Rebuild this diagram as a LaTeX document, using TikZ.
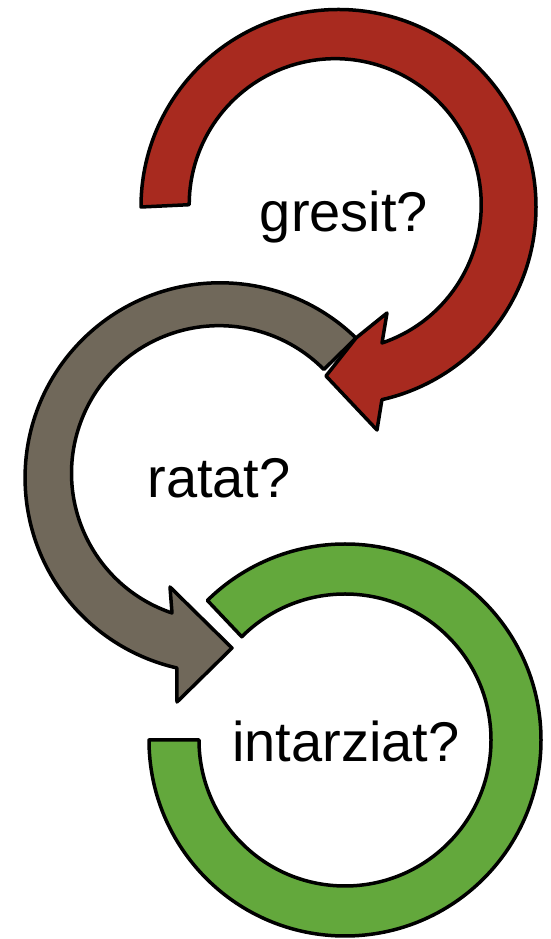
\documentclass[tikz,border=0pt]{standalone}
\usepackage{fontspec}
\setmainfont{Liberation Sans}
\usetikzlibrary{calc}
\definecolor{arrred}{HTML}{A82A1F}
\definecolor{arrgray}{HTML}{70685A}
\definecolor{arrgreen}{HTML}{63A83C}
\tikzset{
  ring/.style={draw=black, line width=3.5pt, line join=round},
  label/.style={font=\fontsize{56}{60}\selectfont, inner sep=0pt, anchor=base}
}
\begin{document}
\begin{tikzpicture}[x=1pt,y=1pt]
\useasboundingbox (0,0) rectangle (550,939);
\coordinate (C1) at (338.5,732);
\coordinate (C2) at (220,461);
\coordinate (C3) at (345,199);
% green ring (no head)
\path[ring, fill=arrgreen]
  ([shift={(180:196pt)}]C3) arc[start angle=180, end angle=494.6, radius=196pt]
  -- ([shift={(135:146pt)}]C3) arc[start angle=135, end angle=-180, radius=146pt]
  -- cycle;
% gray arrow
\path[ring, fill=arrgray]
  (356,601) arc[start angle=45.8, end angle=257.2, radius=195pt]
  -- (177,237) -- (232,291) -- (170,352) -- (172,326)
  arc[start angle=251.4, end angle=44.7, radius=147.5pt]
  -- cycle;
% red arrow
\path[ring, fill=arrred]
  ([shift={(180:197.5pt)}]C1) arc[start angle=180, end angle=-77.3, radius=197.5pt]
  -- (377,509) -- (326,563) -- (356,601) -- (387,626) -- (382,596)
  arc[start angle=-71.3, end angle=180, radius=146pt]
  -- cycle;
\node[label] (t1) at (344,707) {gresit?};
\node[label] (t2) at (219,441) {ratat?};
\node[label] (t3) at (346,177) {intarziat?};
\end{tikzpicture}
\end{document}
